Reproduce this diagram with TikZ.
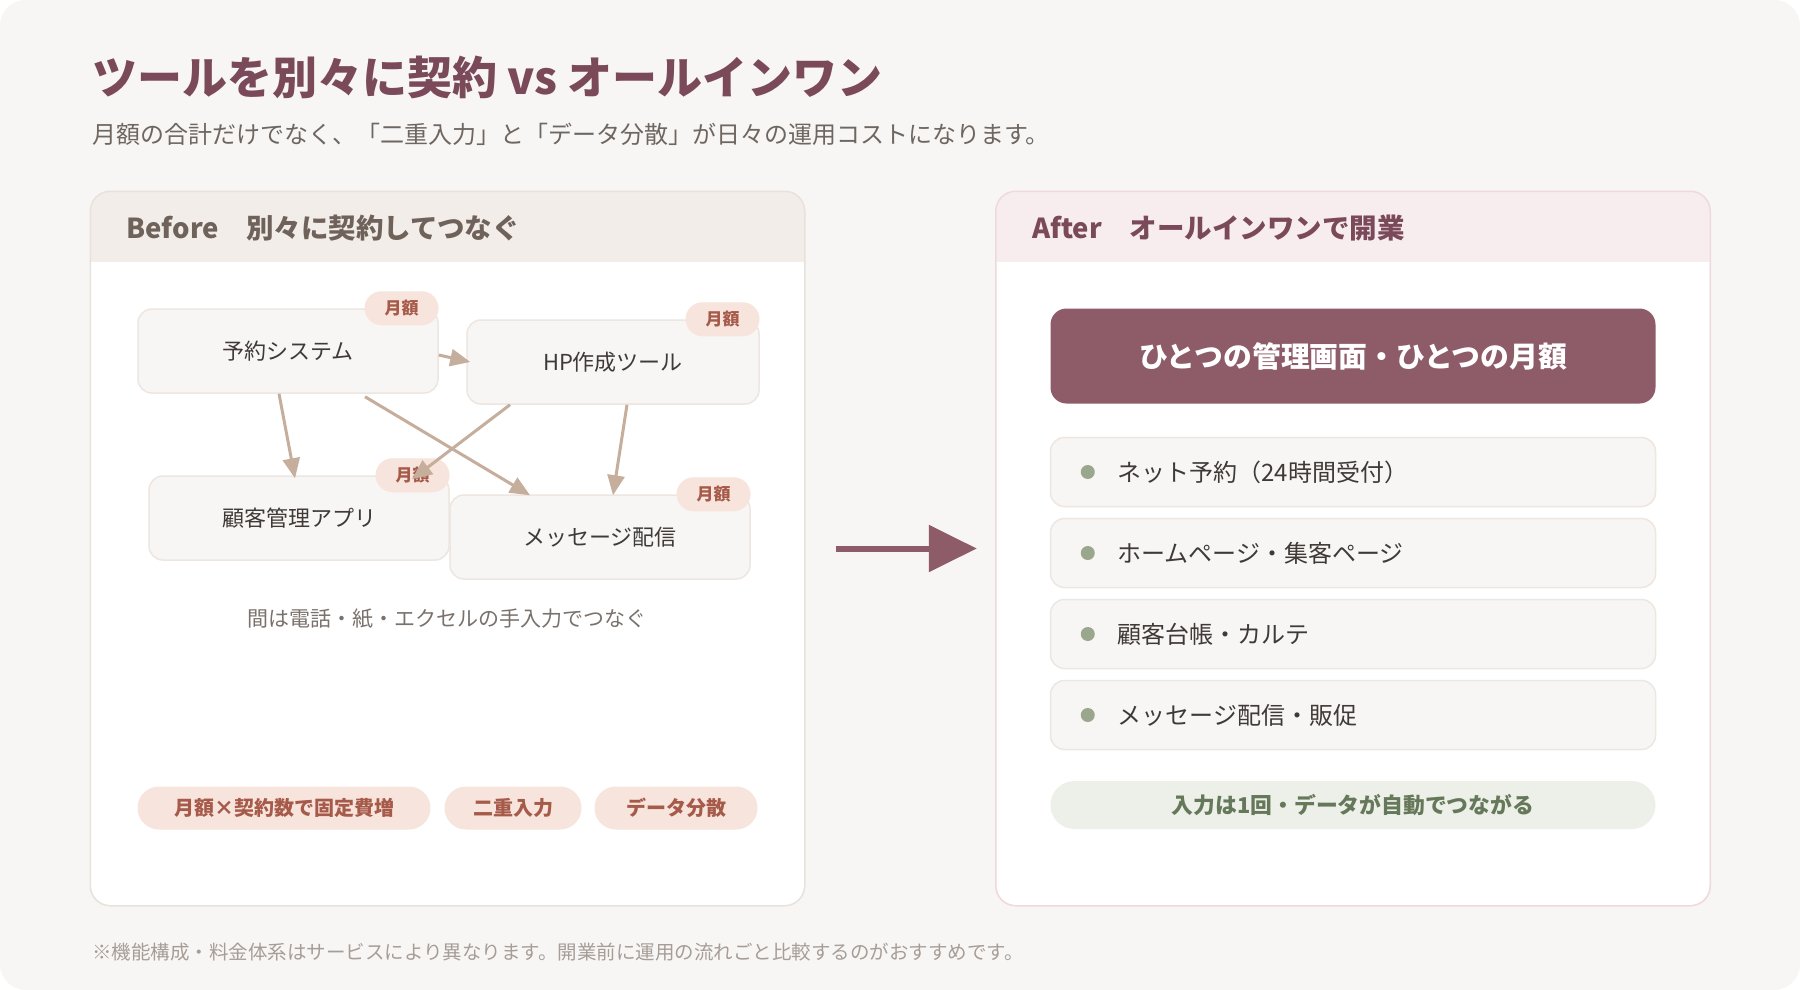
\documentclass[tikz,border=0pt]{standalone}
\usepackage{fontspec}
\setmainfont{Noto Sans CJK JP}
\usepackage{xcolor}
\usetikzlibrary{arrows.meta,positioning}

\definecolor{paper}{HTML}{F8F6F4}
\definecolor{titlec}{HTML}{7A4A5A}
\definecolor{subc}{HTML}{6E6661}
\definecolor{hdrL}{HTML}{F2EDE9}
\definecolor{hdrLline}{HTML}{E9E1DB}
\definecolor{hdrLtxt}{HTML}{6F625A}
\definecolor{hdrR}{HTML}{F7EDEF}
\definecolor{hdrRline}{HTML}{EFD9DE}
\definecolor{boxline}{HTML}{EDE6E1}
\definecolor{inkc}{HTML}{3F3A37}
\definecolor{flowc}{HTML}{C5AE9C}
\definecolor{badgefill}{HTML}{F7E4DC}
\definecolor{badgetxt}{HTML}{A65A4A}
\definecolor{mauve}{HTML}{8E5B68}
\definecolor{dotc}{HTML}{9BA78D}
\definecolor{greenfill}{HTML}{ECF0E8}
\definecolor{greentxt}{HTML}{66785A}
\definecolor{notec}{HTML}{A69D97}
\definecolor{capc}{HTML}{7A716B}

\newcommand{\fsz}[1]{\fontsize{#1}{#1}\selectfont}

\begin{document}
\begin{tikzpicture}[x=1pt,y=-1pt,>=Latex,node distance=10.5pt]
\tikzstyle{panel}=[rectangle,rounded corners=20pt,fill=white,line width=1.5pt,minimum width=713pt,minimum height=713pt]
\tikzstyle{tool}=[rectangle,rounded corners=14pt,draw=boxline,line width=1.5pt,fill=paper,minimum width=300pt,minimum height=84pt,font=\fsz{22},text=inkc]
\tikzstyle{badge}=[rectangle,rounded corners=17pt,fill=badgefill,minimum width=74pt,minimum height=34pt,inner sep=0pt,font=\fsz{17}\bfseries,text=badgetxt]
\tikzstyle{pill}=[rectangle,rounded corners=21.5pt,fill=badgefill,minimum height=43pt,inner sep=0pt,font=\fsz{20}\bfseries,text=badgetxt]
\tikzstyle{flow}=[draw=flowc,line width=3pt,-{Triangle[length=20pt,width=17pt]}]
\tikzstyle{feat}=[rectangle,rounded corners=14pt,draw=boxline,line width=1.5pt,fill=paper,minimum width=605pt,minimum height=69pt,inner xsep=67pt,text width=471pt,align=left,font=\fsz{24},text=inkc]

% background
\useasboundingbox (0,0) rectangle (1800,990);
\fill[white] (0,0) rectangle (1800,990);
\fill[paper,rounded corners=26pt] (0,0) rectangle (1800,990);

% title
\node[anchor=west,font=\fsz{45}\bfseries,text=titlec] (title) at (88.5,77) {ツールを別々に契約 vs オールインワン};
\node[anchor=west,font=\fsz{24},text=subc] (sub) at (88.5,134) {月額の合計だけでなく、「二重入力」と「データ分散」が日々の運用コストになります。};

% panels
\node[panel] (before) at (447.5,548.5) {};
\node[panel] (after) at (1353,548.5) {};
\begin{scope}
\clip[rounded corners=20pt] (before.north west) rectangle (before.south east);
\fill[hdrL] (before.north west) rectangle ([yshift=-71pt]before.north east);
\end{scope}
\begin{scope}
\clip[rounded corners=20pt] (after.north west) rectangle (after.south east);
\fill[hdrR] (after.north west) rectangle ([yshift=-71pt]after.north east);
\end{scope}
\draw[hdrLline,line width=1.5pt,rounded corners=20pt] (before.north west) rectangle (before.south east);
\draw[hdrRline,line width=1.5pt,rounded corners=20pt] (after.north west) rectangle (after.south east);
\node[anchor=west,font=\fsz{27.5}\bfseries,text=hdrLtxt] at (123,228) {Before　別々に契約してつなぐ};
\node[anchor=west,font=\fsz{27.5}\bfseries,text=titlec] at (1029,228) {After　オールインワンで開業};

% before: separate tools
\node[tool] (yoyaku) at (288,351) {予約システム};
\node[tool,minimum width=292pt] (hp) at (613,362) {HP作成ツール};
\node[tool] (kokyaku) at (299,518) {顧客管理アプリ};
\node[tool] (msg) at (600,537) {メッセージ配信};
\foreach \n in {yoyaku,hp,kokyaku,msg}
  \node[badge,anchor=east] at (\n.north east) {月額};

\draw[flow] ([yshift=-4pt]yoyaku.east) -- ([xshift=4pt]hp.west);
\draw[flow] ([xshift=-9pt]yoyaku.south) -- ([xshift=-4pt,yshift=-3pt]kokyaku.north);
\draw[flow] ([xshift=77pt,yshift=-3pt]yoyaku.south) -- ([xshift=-70pt,yshift=-1pt]msg.north);
\draw[flow] ([xshift=-103pt]hp.south) -- ([xshift=113pt,yshift=-4pt]kokyaku.north);
\draw[flow] ([xshift=14pt]hp.south) -- ([xshift=13pt,yshift=-1pt]msg.north);

\node[font=\fsz{21},text=capc] (cap) at (447,619) {間は電話・紙・エクセルの手入力でつなぐ};

\node[pill,minimum width=293pt] (cost) at (284,808) {月額×契約数で固定費増};
\node[pill,minimum width=137pt] (dup) at (513,808) {二重入力};
\node[pill,minimum width=163pt] (scatter) at (676,808) {データ分散};

% arrow between panels
\draw[mauve,line width=6pt,-{Triangle[length=48pt,width=46pt]}] ([xshift=31pt]before.east) -- ([xshift=-19pt]after.west);

% after: all in one
\node[rectangle,rounded corners=16pt,fill=mauve,minimum width=605pt,minimum height=95pt,font=\fsz{28.8}\bfseries,text=white] (one) at (1353,356) {ひとつの管理画面・ひとつの月額};
\node[feat] (f1) at (1353,472) {ネット予約（24時間受付）};
\node[feat,below=of f1] (f2) {ホームページ・集客ページ};
\node[feat,below=of f2] (f3) {顧客台帳・カルテ};
\node[feat,below=of f3] (f4) {メッセージ配信・販促};
\foreach \n in {f1,f2,f3,f4}
  \fill[dotc] ([xshift=38pt]\n.west) circle (7pt);
\node[rectangle,rounded corners=24pt,fill=greenfill,minimum width=605pt,minimum height=48pt,font=\fsz{21.8}\bfseries,text=greentxt] (auto) at (1353,805) {入力は1回・データが自動でつながる};

% footnote
\node[anchor=west,font=\fsz{19.5},text=notec] (note) at (88.5,952) {※機能構成・料金体系はサービスにより異なります。開業前に運用の流れごと比較するのがおすすめです。};
\end{tikzpicture}
\end{document}
